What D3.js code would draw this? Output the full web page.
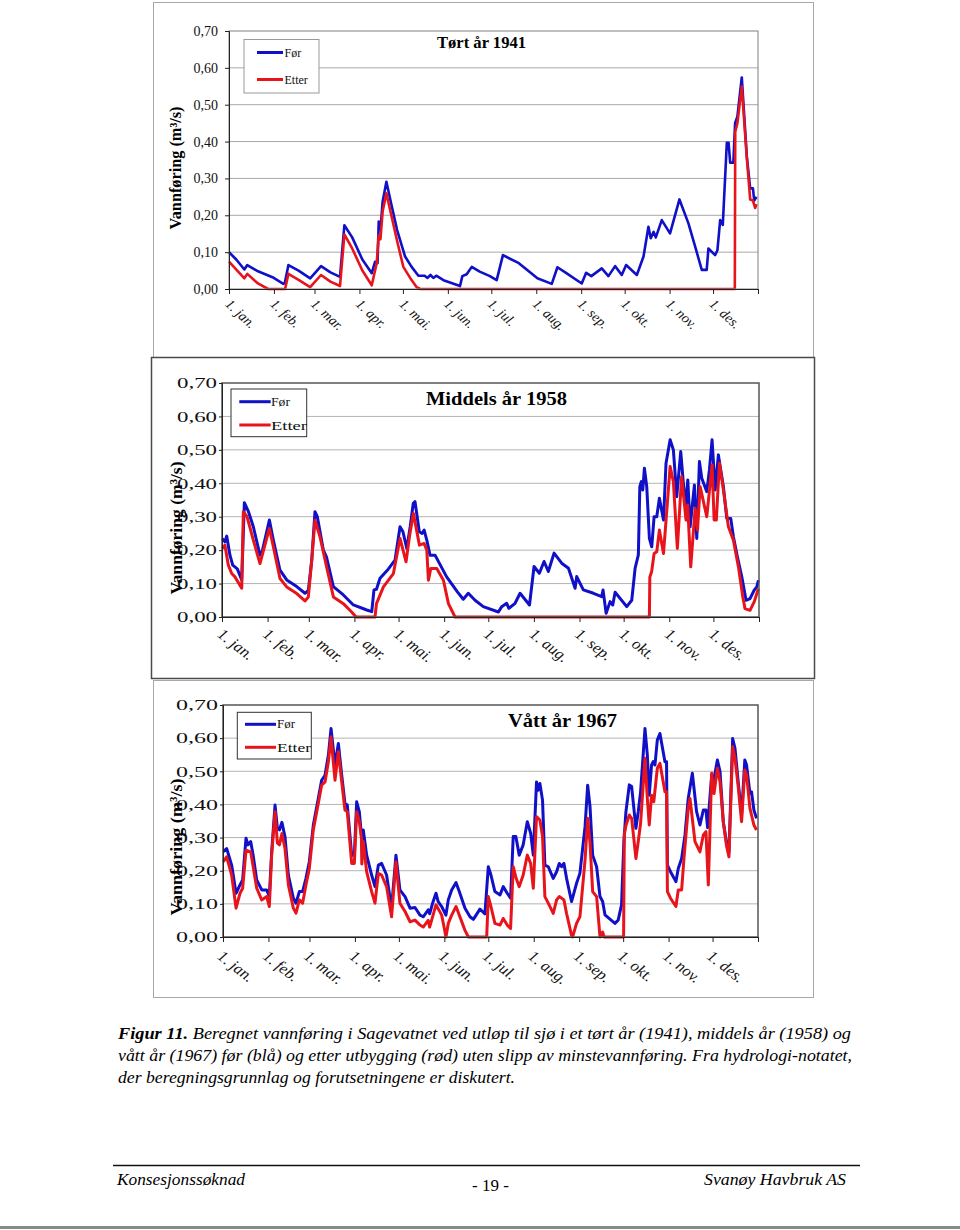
<!DOCTYPE html>
<html>
<head>
<meta charset="utf-8">
<script src="https://cdn.jsdelivr.net/npm/d3@7/dist/d3.min.js"></script>
<style>
body{margin:0;background:#fff;}
svg{display:block;}
</style>
</head>
<body>
<script>
// ---------- DATA ----------
const monthLabels = ["1. jan.","1. feb.","1. mar.","1. apr.","1. mai.","1. jun.","1. jul.","1. aug.","1. sep.","1. okt.","1. nov.","1. des."];
const yTickValues = [0,0.1,0.2,0.3,0.4,0.5,0.6,0.7];
const yTickLabels = ["0,00","0,10","0,20","0,30","0,40","0,50","0,60","0,70"];
const seriesNames = ["Før","Etter"];
const panelTitles = ["Tørt år 1941","Middels år 1958","Vått år 1967"];
const panelYears = [1941,1958,1967];
const yAxisTitle = "Vannføring (m³/s)";

// day of year (0 = 1. jan.) and discharge (m3/s)
const dryDaysFor = [0,5,10.6,12.6,20,30,37.5,38.5,41,48,56,63.5,70,76.6,79.6,85,92,98.5,100.8,102.5,103.3,104.5,106,108.6,112,116,121.5,126,130.7,135,137,139,141,143,148,159.4,161,164,167.5,173,180,184.7,189,200,212.8,222.7,226.6,232,243.4,246.4,250,257.2,261.8,266.4,271,274,281.4,286,289.4,291,293,294.5,298.6,304.3,310.8,317,322,326.2,329.6,330.8,335.4,337,338.9,340.7,343.5,344.7,345.8,348,349.2,350.8,353.8,357.3,359.6,361.5,362.4,364];
const dryFor = [0.100,0.080,0.053,0.065,0.048,0.032,0.014,0.016,0.065,0.050,0.029,0.062,0.045,0.033,0.173,0.140,0.080,0.043,0.074,0.070,0.183,0.160,0.237,0.291,0.230,0.160,0.088,0.060,0.036,0.036,0.030,0.038,0.030,0.036,0.024,0.008,0.035,0.040,0.060,0.047,0.035,0.024,0.092,0.070,0.029,0.014,0.059,0.045,0.015,0.044,0.035,0.056,0.035,0.062,0.038,0.065,0.038,0.088,0.169,0.138,0.155,0.140,0.187,0.151,0.243,0.178,0.110,0.052,0.052,0.110,0.092,0.105,0.187,0.174,0.397,0.397,0.343,0.343,0.450,0.468,0.574,0.359,0.273,0.273,0.240,0.250];
const dryDaysEtter = [0,10.6,12.6,20,27,38.7,41,48,56,63.5,70,76.6,79.6,85,92,98.5,101.9,103.3,104.5,106,108.6,112,116,120.3,125,129.5,132,349,349.3,350.8,353.8,357.3,359.6,361.5,363,364];
const dryEtter = [0.074,0.029,0.041,0.015,0,0,0.041,0.025,0.005,0.038,0.020,0.008,0.148,0.110,0.050,0.010,0.070,0.146,0.135,0.210,0.260,0.200,0.130,0.060,0.030,0.005,0,0,0.427,0.450,0.549,0.355,0.243,0.240,0.220,0.230];

const midDaysFor = [0,2,3.2,5.4,7.3,10.4,13.4,15.2,18,21.3,25.8,27,32.2,34.9,39.4,44,50.8,56.4,58.7,61,63.2,64.8,68.9,71,75.7,82.5,89.3,98.4,101.8,103.3,105,107.4,113,117.6,121,123,125.6,127.9,130,131.2,134.1,136,137.4,139.2,141.4,144.8,152.7,160,164,167.4,172,177.6,187.9,190.1,193.5,195,199.2,202.6,209,212.1,215.7,218.9,221.8,225.7,230.9,235.5,240,241.1,245.6,252.5,258.1,259,261.1,263.8,265.6,267.2,275.1,278.5,280.8,283,284,285,286,287.1,288.7,290.5,292.1,293.7,295.5,297.3,300.1,301.8,304.6,306.8,309.1,311.8,313.6,315.2,316.6,318.2,321.1,322.7,324.5,326.1,329.5,331.3,333.1,335.2,337.4,340.8,343.1,345.8,347.6,350.3,353.3,356.2,358.9,361.7,363.5,364.6];
const midFor = [0.235,0.225,0.242,0.185,0.155,0.144,0.111,0.342,0.315,0.270,0.185,0.190,0.290,0.230,0.140,0.111,0.091,0.071,0.080,0.170,0.315,0.300,0.200,0.180,0.091,0.066,0.036,0.021,0.016,0.081,0.083,0.116,0.143,0.170,0.270,0.255,0.205,0.270,0.340,0.345,0.255,0.250,0.260,0.230,0.185,0.185,0.120,0.075,0.053,0.071,0.050,0.031,0.015,0.031,0.041,0.026,0.041,0.071,0.036,0.151,0.131,0.166,0.136,0.191,0.161,0.146,0.086,0.121,0.081,0.071,0.061,0.081,0.011,0.046,0.036,0.074,0.031,0.050,0.146,0.186,0.390,0.405,0.380,0.445,0.390,0.235,0.210,0.300,0.300,0.355,0.290,0.460,0.530,0.500,0.360,0.495,0.400,0.330,0.410,0.270,0.395,0.235,0.465,0.415,0.375,0.440,0.530,0.380,0.485,0.390,0.295,0.295,0.240,0.180,0.120,0.050,0.055,0.080,0.090,0.110];
const midDaysEtter = [0,2,4.3,6.6,8.8,13.4,14.5,17,21.3,25.8,32.2,34.9,39.4,44,50.8,56.4,58.7,61,63.2,66.6,71.1,75.7,82.5,88.1,91.1,104,105,109.7,116.5,121,125.1,127.4,130.1,134.2,137.4,139.2,140.3,141.9,146,150.5,153.9,158.4,290.5,290.8,292,293.7,295.5,297.3,300.1,304.6,306.8,309.5,312.4,315.4,316.5,318.6,321.6,323.2,325,329.5,333.1,334.5,336,338.1,340.8,344.2,347.6,351,354,355.5,358.9,361.7,364.6];
const midEtter = [0.205,0.215,0.155,0.130,0.120,0.086,0.315,0.300,0.230,0.160,0.265,0.210,0.115,0.090,0.070,0.048,0.060,0.170,0.290,0.240,0.150,0.060,0.040,0.015,0,0,0.040,0.090,0.130,0.235,0.165,0.240,0.310,0.215,0.220,0.200,0.110,0.145,0.145,0.110,0.040,0,0,0.120,0.135,0.190,0.195,0.260,0.190,0.450,0.405,0.205,0.420,0.290,0.335,0.150,0.325,0.260,0.390,0.300,0.455,0.290,0.290,0.460,0.380,0.270,0.230,0.150,0.060,0.025,0.020,0.045,0.085];

const wetDaysFor = [0,2.5,5.9,8.9,11.6,13.4,15.7,17,18.9,20.5,23,26.4,29.8,31.6,33.2,35.5,37.1,38.5,40.2,42.3,44.6,48,49.8,52.1,54.3,56.6,58.9,61.6,65,67.3,69.6,71.9,73.7,76.4,78.7,81,83.2,84.8,87.8,89.6,91.2,93,94.6,95.7,98,101.4,103.7,106,108.2,111.6,115,118,120.7,124.2,127.6,131,134.4,136.6,140,141,143,145.3,146.8,149.2,152.1,153.7,156,159,161.2,165.1,168.5,170.8,175.3,178.7,181,182.8,185.5,189,191.2,193.9,196.2,198,199.8,202.1,204.8,207.6,209.9,211.7,213.9,215,216.2,218,219.6,221.9,225.3,227.6,229.4,231,232.6,234.4,237.8,241.2,243.5,247,248.8,250.4,252.2,254.9,257.2,259,260.6,264,267.4,269.6,271.9,273.5,274.9,277.2,278.8,281.7,283.3,284.9,286.8,287.9,289.5,290.8,292.4,293.5,294.7,296.3,298.1,299.9,301.5,302.6,303.2,305.3,309,310.6,312.9,315.2,317.4,320.2,323.1,325.4,327.7,329.5,330.6,333.4,334.6,337.3,339.1,341.3,343.6,345.2,347.7,349.3,351.5,353.8,356,357.2,359.5,360.6,362.2,364];
const wetFor = [0.257,0.267,0.217,0.132,0.157,0.172,0.298,0.278,0.288,0.248,0.172,0.142,0.142,0.122,0.257,0.398,0.328,0.323,0.346,0.302,0.187,0.117,0.102,0.137,0.137,0.177,0.227,0.337,0.418,0.473,0.488,0.549,0.629,0.519,0.584,0.488,0.403,0.398,0.247,0.247,0.408,0.378,0.298,0.323,0.247,0.187,0.152,0.217,0.222,0.187,0.087,0.247,0.142,0.122,0.087,0.089,0.066,0.061,0.082,0.070,0.102,0.132,0.107,0.092,0.066,0.112,0.142,0.164,0.137,0.087,0.061,0.053,0.084,0.070,0.212,0.187,0.137,0.127,0.152,0.132,0.117,0.303,0.303,0.247,0.278,0.348,0.313,0.247,0.468,0.443,0.463,0.413,0.217,0.212,0.177,0.197,0.222,0.212,0.222,0.177,0.107,0.162,0.192,0.333,0.458,0.393,0.247,0.212,0.122,0.107,0.067,0.054,0.041,0.051,0.097,0.288,0.378,0.459,0.454,0.328,0.378,0.438,0.559,0.629,0.549,0.428,0.519,0.529,0.519,0.594,0.614,0.569,0.529,0.529,0.217,0.197,0.167,0.207,0.237,0.308,0.418,0.494,0.378,0.338,0.383,0.383,0.330,0.489,0.468,0.534,0.499,0.348,0.283,0.257,0.599,0.569,0.468,0.368,0.534,0.519,0.433,0.438,0.383,0.358];
const wetDaysEtter = [0,2.5,5.9,8.9,11.6,13.4,15.7,18.9,23,26.4,29.8,31.6,33.2,35.5,37.1,38.5,40.2,42.3,44.6,48,49.8,52.1,54.3,56.6,58.9,61.6,65,67.3,69.6,71.9,73.7,76.4,78.7,81,83.2,84.8,87.8,89.6,91.2,93,94.4,94.7,95.7,98,101.4,103.7,106,108.2,111.6,115,118,120.7,124.2,127.6,131,134.4,136.6,140,141,145.3,149.2,150.8,152.1,153.7,156,159,161.2,165.1,167.4,179.9,181,182.8,185.5,189,191.2,193.9,196.2,198,200,202.1,204.8,207.6,209.9,211.7,213.9,216.2,218,219.6,221.9,225.3,227.6,229.4,232.6,234.4,237.8,238.5,241.2,243.5,247,248.8,250.4,252.2,254.9,257.2,259,260,273.3,273.8,275,277.2,278.8,281.7,283.3,284.9,287.9,289.5,290.8,292.4,293.9,296.3,298.1,299.9,301.5,302.6,303.2,305.3,309,310.6,312.9,314.5,317.4,318.6,322,325.4,327.7,329.5,331.1,333.4,335,337.3,339.1,341.3,343.6,345.2,347.7,349.3,351.5,353.8,356,357.2,359.5,362.2,364];
const wetEtter = [0.227,0.242,0.187,0.087,0.132,0.147,0.262,0.257,0.147,0.112,0.122,0.092,0.247,0.378,0.283,0.278,0.312,0.267,0.157,0.087,0.072,0.112,0.102,0.157,0.207,0.323,0.403,0.458,0.468,0.529,0.604,0.473,0.559,0.468,0.383,0.378,0.222,0.222,0.378,0.348,0.300,0.220,0.288,0.197,0.137,0.102,0.192,0.187,0.152,0.061,0.227,0.102,0.077,0.046,0.051,0.036,0.030,0.050,0.030,0.097,0.066,0.030,0,0.041,0.066,0.092,0.066,0.020,0,0,0.122,0.092,0.041,0.036,0.056,0.036,0.026,0.212,0.177,0.152,0.187,0.247,0.222,0.147,0.363,0.353,0.303,0.122,0.102,0.071,0.112,0.122,0.112,0.071,0.005,0,0.041,0.061,0.232,0.358,0.283,0.137,0.122,0,0.015,0,0,0.310,0.338,0.368,0.358,0.237,0.288,0.343,0.539,0.418,0.338,0.428,0.408,0.509,0.524,0.479,0.438,0.438,0.137,0.117,0.092,0.142,0.142,0.237,0.388,0.418,0.288,0.257,0.308,0.318,0.157,0.494,0.433,0.509,0.468,0.348,0.273,0.242,0.574,0.539,0.453,0.348,0.504,0.489,0.388,0.338,0.323];

const captionLines = [
  ["Figur 11.", " Beregnet vannføring i Sagevatnet ved utløp til sjø i et tørt år (1941), middels år (1958) og"],
  ["", "vått år (1967) før (blå) og etter utbygging (rød) uten slipp av minstevannføring.  Fra hydrologi-notatet,"],
  ["", "der beregningsgrunnlag og forutsetningene er diskutert."]
];
const footerLeft = "Konsesjonssøknad", footerMid = "- 19 -", footerRight = "Svanøy Havbruk AS";

const panelSeries = [
  {forDays: dryDaysFor, forVals: dryFor, etterDays: dryDaysEtter, etterVals: dryEtter},
  {forDays: midDaysFor, forVals: midFor, etterDays: midDaysEtter, etterVals: midEtter},
  {forDays: wetDaysFor, forVals: wetFor, etterDays: wetDaysEtter, etterVals: wetEtter}
];

// ---------- LAYOUT ----------
const BLUE = "#1010c8", RED = "#e8141c";
const SERIF = "'Liberation Serif','Times New Roman',serif";

const layouts = [
  {frame:[153.5,2.5,660,356,"#a8a8a8",1], left:229,right:758,top:31,bottom:289,
   border:"#808080",bw:1,grid:"#a8a8a8",
   yFont:14,yLen:null,yTick:4,yPad:7,
   mFont:14,mAngle:43,mOff:[-5,16],
   title:{x:437,y:48,size:17,len:89},
   ytitle:{x:181,y:168,size:16,len:123},
   legend:{box:[244,39.5,75,53.5],box_c:"#999",l1:[257,283],ly:[52.5,79.5],tx:284.5,ty:[56.5,83.5],fs:12,lens:[null,null],lw:3},
   lw:2.6},
  {frame:[151.5,357.5,663,321,"#4a4a4a",1.5], left:222,right:759,top:383,bottom:617,
   border:"#555",bw:1.5,grid:"#b4b4b4",
   yFont:15,yLen:40,yTick:3,yPad:2,
   mFont:16,mAngle:38,mOff:[-6,19],
   title:{x:426,y:405,size:18,len:141},
   ytitle:{x:181.5,y:528,size:17,len:133},
   legend:{box:[231,389,75.7,47.7],box_c:"#333",l1:[239.3,270.7],ly:[401.7,425],tx:271,ty:[405.5,429.5],fs:13,lens:[19,36],lw:3},
   lw:3},
  {frame:[153.5,680.5,660,317,"#a8a8a8",1], left:223,right:758,top:705,bottom:937,
   border:"#555",bw:1.5,grid:"#b4b4b4",
   yFont:15,yLen:42,yTick:3,yPad:2,
   mFont:16,mAngle:38,mOff:[-7,21],
   title:{x:508,y:727,size:18,len:109},
   ytitle:{x:181.5,y:847,size:17,len:137},
   legend:{box:[237.3,712.3,74,46.7],box_c:"#333",l1:[245,276],ly:[724.3,747.3],tx:277,ty:[728,751.5],fs:13,lens:[18,34],lw:3},
   lw:3}
];

const svg = d3.select("body").append("svg").attr("width",960).attr("height",1230);
svg.append("rect").attr("width",960).attr("height",1230).attr("fill","#fff");

layouts.forEach((L,pi)=>{
  const year = panelYears[pi];
  const S = panelSeries[pi];
  const g = svg.append("g");
  const f = L.frame;
  g.append("rect").attr("x",f[0]).attr("y",f[1]).attr("width",f[2]).attr("height",f[3])
    .attr("fill","#fff").attr("stroke",f[4]).attr("stroke-width",f[5]);

  const t0 = Date.UTC(year,0,1), t1 = Date.UTC(year+1,0,1);
  const x = d3.scaleUtc().domain([new Date(t0), new Date(t1)]).range([L.left, L.right]);
  const y = d3.scaleLinear().domain([0,0.7]).range([L.bottom, L.top]);
  const toDate = d => new Date(t0 + d*86400000);

  // grid
  g.append("g").selectAll("line").data(yTickValues.filter(v=>v>0 && v<0.7)).join("line")
    .attr("x1",L.left).attr("x2",L.right).attr("y1",d=>y(d)).attr("y2",d=>y(d))
    .attr("stroke",L.grid).attr("stroke-width",1);

  // lines
  const line = d3.line().x(d=>x(toDate(d[0]))).y(d=>y(d[1])).curve(d3.curveLinear);
  const forData = S.forDays.map((d,i)=>[d,S.forVals[i]]);
  const etterData = S.etterDays.map((d,i)=>[d,S.etterVals[i]]);
  g.append("path").datum(forData).attr("d",line).attr("fill","none").attr("stroke",BLUE)
    .attr("stroke-width",L.lw).attr("stroke-linejoin","round");
  g.append("path").datum(etterData).attr("d",line).attr("fill","none").attr("stroke",RED)
    .attr("stroke-width",L.lw).attr("stroke-linejoin","round");

  // plot border
  g.append("rect").attr("x",L.left).attr("y",L.top).attr("width",L.right-L.left).attr("height",L.bottom-L.top)
    .attr("fill","none").attr("stroke",L.border).attr("stroke-width",L.bw);

  // x axis
  const monthTicks = d3.utcMonth.range(new Date(t0), new Date(t1)).concat([new Date(t1)]);
  const xa = g.append("g").attr("transform",`translate(0,${L.bottom})`)
    .call(d3.axisBottom(x).tickValues(monthTicks).tickSize(5).tickFormat((d,i)=>monthLabels[i]||""));
  xa.select(".domain").attr("stroke","#222");
  xa.selectAll(".tick line").attr("stroke","#222");
  xa.selectAll(".tick text").attr("x",0).attr("y",0).attr("dy",0)
    .attr("transform",`translate(${L.mOff[0]},${L.mOff[1]}) rotate(${L.mAngle})`)
    .attr("text-anchor","start").attr("font-family",SERIF).attr("font-style","italic")
    .attr("font-size",L.mFont).attr("fill","#111");

  // y axis
  const ya = g.append("g").attr("transform",`translate(${L.left},0)`)
    .call(d3.axisLeft(y).tickValues(yTickValues).tickFormat((d,i)=>yTickLabels[i]).tickSize(L.yTick).tickPadding(L.yPad));
  ya.select(".domain").attr("stroke","#222");
  ya.selectAll(".tick line").attr("stroke","#222");
  const yt = ya.selectAll(".tick text").attr("font-family",SERIF).attr("font-size",L.yFont).attr("fill","#111");
  if (L.yLen) yt.attr("textLength",L.yLen).attr("lengthAdjust","spacingAndGlyphs");

  // title
  g.append("text").attr("x",L.title.x).attr("y",L.title.y).text(panelTitles[pi])
    .attr("font-family",SERIF).attr("font-weight","bold").attr("font-size",L.title.size)
    .attr("textLength",L.title.len).attr("lengthAdjust","spacingAndGlyphs");

  // y title
  g.append("text").attr("transform",`translate(${L.ytitle.x},${L.ytitle.y}) rotate(-90)`)
    .attr("text-anchor","middle").text(yAxisTitle)
    .attr("font-family",SERIF).attr("font-weight","bold").attr("font-size",L.ytitle.size)
    .attr("textLength",L.ytitle.len).attr("lengthAdjust","spacingAndGlyphs");

  // legend
  const lg = L.legend;
  g.append("rect").attr("x",lg.box[0]).attr("y",lg.box[1]).attr("width",lg.box[2]).attr("height",lg.box[3])
    .attr("fill","#fff").attr("stroke",lg.box_c).attr("stroke-width",1);
  [BLUE,RED].forEach((c,k)=>{
    g.append("line").attr("x1",lg.l1[0]).attr("x2",lg.l1[1]).attr("y1",lg.ly[k]).attr("y2",lg.ly[k])
      .attr("stroke",c).attr("stroke-width",lg.lw);
    const tx = g.append("text").attr("x",lg.tx).attr("y",lg.ty[k]).text(seriesNames[k])
      .attr("font-family",SERIF).attr("font-size",lg.fs).attr("fill","#111");
    if (lg.lens[k]) tx.attr("textLength",lg.lens[k]).attr("lengthAdjust","spacingAndGlyphs");
  });
});

// ---------- CAPTION & FOOTER ----------
const capY = [1039,1061,1083], capLen = [733,734,397];
captionLines.forEach((ln,i)=>{
  const t = svg.append("text").attr("x",118).attr("y",capY[i])
    .attr("font-family",SERIF).attr("font-style","italic").attr("font-size",17)
    .attr("textLength",capLen[i]).attr("lengthAdjust","spacingAndGlyphs");
  if (ln[0]) t.append("tspan").attr("font-weight","bold").text(ln[0]);
  t.append("tspan").text(ln[1]);
});
svg.append("line").attr("x1",113).attr("x2",860).attr("y1",1165.5).attr("y2",1165.5).attr("stroke","#111").attr("stroke-width",1.3);
svg.append("text").attr("x",117).attr("y",1185).text(footerLeft)
  .attr("font-family",SERIF).attr("font-style","italic").attr("font-size",17)
  .attr("textLength",128).attr("lengthAdjust","spacingAndGlyphs");
svg.append("text").attr("x",490.5).attr("y",1191).attr("text-anchor","middle").text(footerMid)
  .attr("font-family",SERIF).attr("font-size",17);
svg.append("text").attr("x",846).attr("y",1185).attr("text-anchor","end").text(footerRight)
  .attr("font-family",SERIF).attr("font-style","italic").attr("font-size",17)
  .attr("textLength",142).attr("lengthAdjust","spacingAndGlyphs");
svg.append("line").attr("x1",0).attr("x2",960).attr("y1",1227.5).attr("y2",1227.5).attr("stroke","#888").attr("stroke-width",3);
</script>
</body>
</html>
